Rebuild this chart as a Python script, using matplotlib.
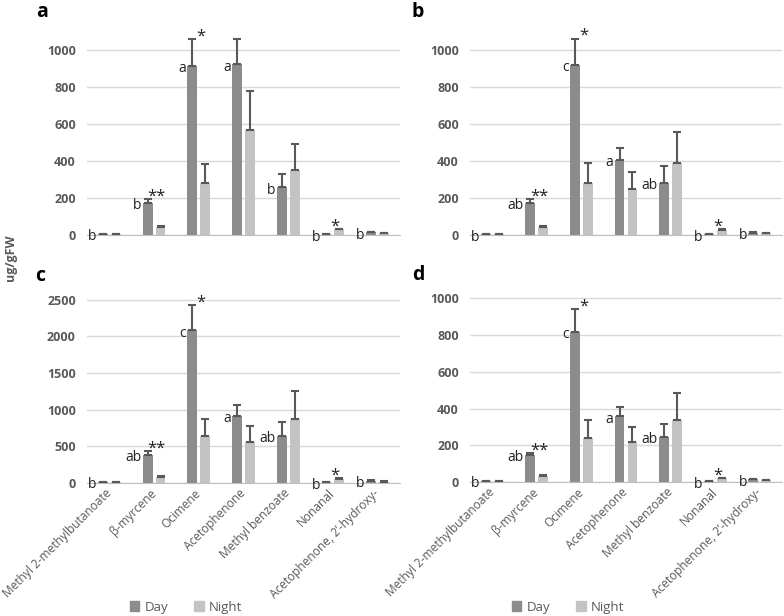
import numpy as np
import matplotlib
matplotlib.use('Agg')
import matplotlib.pyplot as plt
from matplotlib.patches import Patch

plt.rcParams['font.family'] = ['Open Sans', 'DejaVu Sans']

compounds = ['Methyl 2-methylbutanoate', 'β-myrcene', 'Ocimene', 'Acetophenone',
             'Methyl benzoate', 'Nonanal', 'Acetophenone, 2\u2019-hydroxy-']

# значения по панелям (ug/gFW)
a_day = [5, 172, 915, 924, 258, 3, 14]
a_day_err = [2, 24, 145, 135, 74, 1, 3]
a_night = [5, 45, 283, 568, 351, 30, 10]
a_night_err = [2, 4, 103, 210, 141, 4, 2]

b_day = [3, 172, 920, 406, 283, 3, 12]
b_day_err = [1, 24, 143, 63, 88, 1, 2]
b_night = [6, 45, 284, 250, 391, 28, 10]
b_night_err = [2, 4, 104, 91, 165, 4, 2]

c_day = [12, 386, 2082, 918, 645, 10, 32]
c_day_err = [3, 46, 341, 141, 191, 2, 5]
c_night = [12, 82, 636, 564, 877, 55, 20]
c_night_err = [3, 18, 237, 218, 373, 9, 3]

d_day = [5, 148, 818, 358, 245, 3, 14]
d_day_err = [2, 12, 122, 51, 73, 1, 2]
d_night = [5, 30, 242, 218, 340, 20, 11]
d_night_err = [2, 6, 94, 82, 142, 3, 2]

letters_a = ['b', 'b', 'a', 'a', 'b', 'b', 'b']
letters_bcd = ['b', 'ab', 'c', 'a', 'ab', 'b', 'b']
stars = ['', '**', '*', '', '', '*', '']

DAY_COLOR = '#8c8c8c'
NIGHT_COLOR = '#c3c3c3'
TEXT_GRAY = '#595959'

W, H = 784, 616
fig = plt.figure(figsize=(W / 100, H / 100), dpi=100)


def px_axes(x0, x1, y_zero, y_top):
    # прямоугольник осей в пикселях -> доли фигуры
    return fig.add_axes([x0 / W, (H - y_zero) / H, (x1 - x0) / W, (y_zero - y_top) / H])


def draw_panel(ax, day, day_err, night, night_err, letters, ymax, yticks, show_x):
    x = np.arange(len(compounds))
    bw = 0.22
    off = 0.145
    ax.bar(x - off, day, bw, color=DAY_COLOR, zorder=2)
    ax.bar(x + off, night, bw, color=NIGHT_COLOR, zorder=2)
    ax.errorbar(x - off, day, yerr=[np.zeros(len(day)), day_err], fmt='none',
                ecolor=TEXT_GRAY, elinewidth=1.5, capsize=3, capthick=1.5, zorder=3)
    ax.errorbar(x + off, night, yerr=[np.zeros(len(night)), night_err], fmt='none',
                ecolor=TEXT_GRAY, elinewidth=1.5, capsize=3, capthick=1.5, zorder=3)

    for i in range(len(compounds)):
        ax.annotate(letters[i], (x[i] - off - bw / 2, day[i]), xytext=(-1, -2),
                    textcoords='offset points', ha='right', va='center',
                    fontsize=10, color='#222222')
        if stars[i]:
            top = max(day[i] + day_err[i], night[i] + night_err[i])
            ax.annotate(stars[i], (x[i] + 0.05, top), xytext=(0, -4),
                        textcoords='offset points', ha='center', va='bottom',
                        fontsize=12, color='#222222')

    ax.set_xlim(-0.5, len(compounds) - 0.5)
    ax.set_ylim(0, ymax)
    ax.set_yticks(yticks)
    ax.grid(axis='y', color='#d9d9d9', linewidth=1, zorder=0)
    for s in ['top', 'right', 'left']:
        ax.spines[s].set_visible(False)
    ax.spines['bottom'].set_color('#bfbfbf')
    ax.tick_params(axis='both', length=0)
    ax.tick_params(axis='y', labelsize=9, labelcolor=TEXT_GRAY, pad=8)
    for lab in ax.get_yticklabels():
        lab.set_fontweight('bold')
    ax.set_xticks(x)
    if show_x:
        ax.tick_params(axis='x', pad=6)
        ax.set_xticklabels(compounds, rotation=45, ha='right', va='center',
                           rotation_mode='anchor', fontsize=8.6, color=TEXT_GRAY)
    else:
        ax.set_xticklabels([])


ax_a = px_axes(87, 400, 235, 28)
draw_panel(ax_a, a_day, a_day_err, a_night, a_night_err, letters_a, 1120,
           range(0, 1001, 200), False)
ax_b = px_axes(470, 782, 235, 28)
draw_panel(ax_b, b_day, b_day_err, b_night, b_night_err, letters_bcd, 1120,
           range(0, 1001, 200), False)
ax_c = px_axes(87, 400, 483, 285)
draw_panel(ax_c, c_day, c_day_err, c_night, c_night_err, letters_bcd, 2700,
           range(0, 2501, 500), True)
ax_d = px_axes(470, 782, 482, 280)
draw_panel(ax_d, d_day, d_day_err, d_night, d_night_err, letters_bcd, 1100,
           range(0, 1001, 200), True)

# подписи панелей
for lab, xp, yp in [('a', 42, 12), ('b', 418, 12), ('c', 40, 276), ('d', 418, 275)]:
    fig.text(xp / W, 1 - yp / H, lab, fontsize=14, fontweight='bold',
             ha='center', va='center', color='black')

fig.text(10 / W, 1 - 258 / H, 'ug/gFW', rotation=90, fontsize=9, fontweight='bold',
         color=TEXT_GRAY, ha='center', va='center')

# легенды под нижними панелями
handles = [Patch(color=DAY_COLOR, label='Day'), Patch(color=NIGHT_COLOR, label='Night')]
for ax, cx in [(ax_c, 186), (ax_d, 568)]:
    ax.legend(handles=handles, loc='center', bbox_to_anchor=(cx / W, 1 - 607 / H),
              bbox_transform=fig.transFigure, ncol=2, frameon=False, fontsize=9.5,
              labelcolor=TEXT_GRAY, handlelength=0.7, handleheight=0.7,
              handletextpad=0.4, columnspacing=2.0)

plt.savefig('out.png', dpi=100)
